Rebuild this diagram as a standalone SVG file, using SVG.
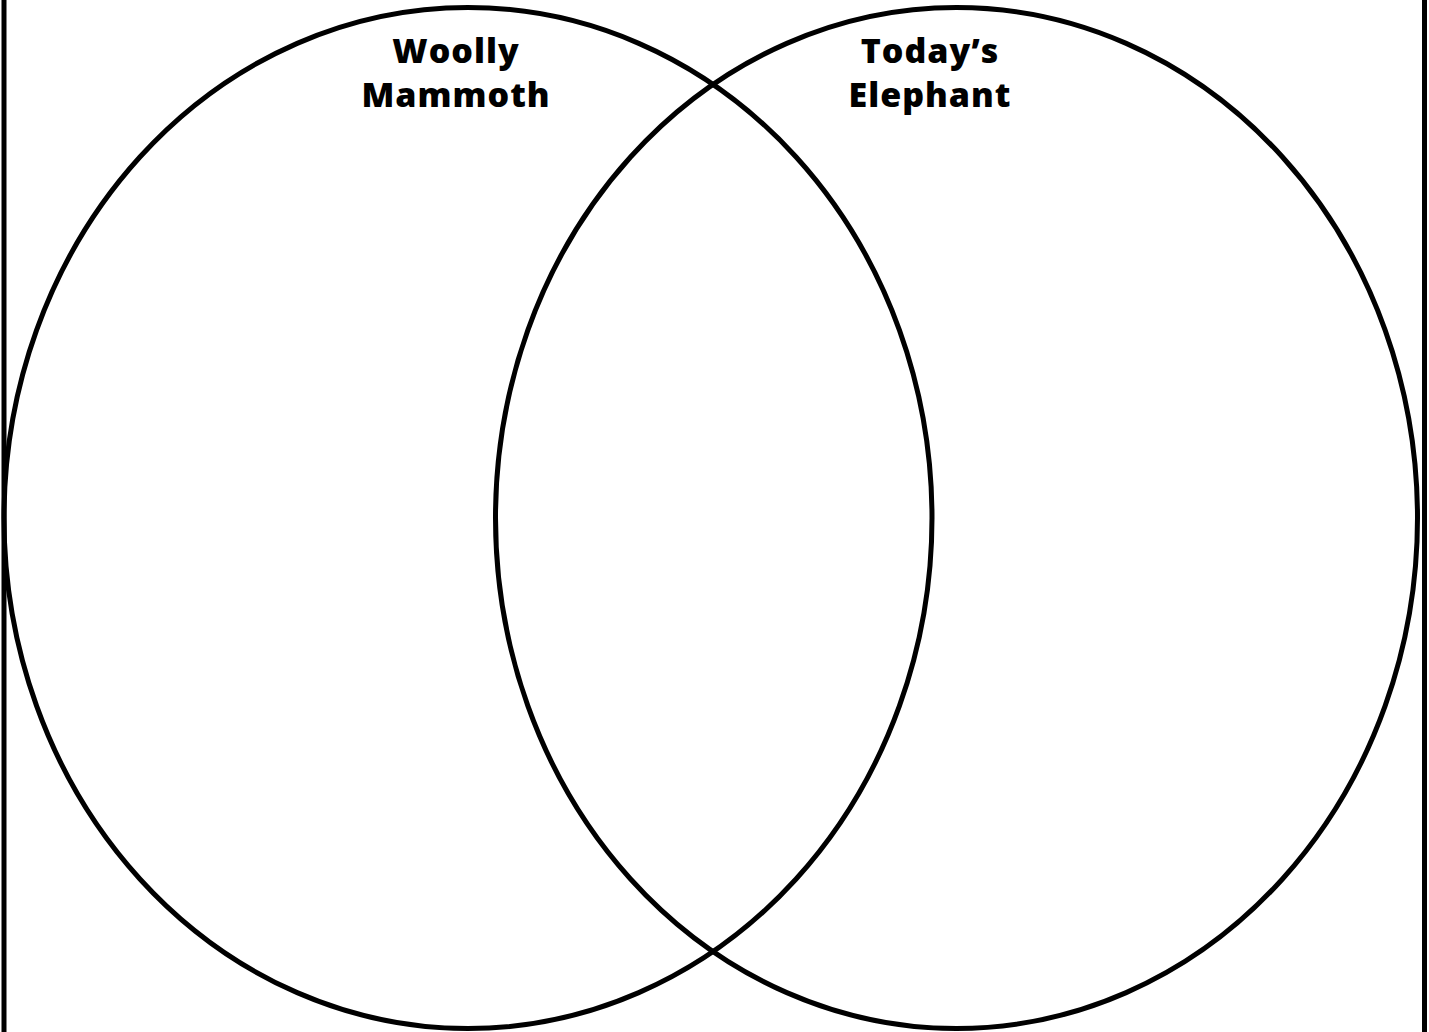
<svg xmlns="http://www.w3.org/2000/svg" width="1429" height="1032" viewBox="0 0 1429 1032">
<style>
.b{stroke:#000;stroke-width:5;fill:none}
.lbl{font-family:"Open Sans","Liberation Sans",sans-serif;font-weight:800;font-size:34px;fill:#000;text-anchor:middle;letter-spacing:1px}
</style>
<rect x="0" y="0" width="1429" height="1032" fill="#fff"/>
<g id="frame">
<line class="b" x1="4" y1="0" x2="4" y2="1032" stroke-width="6"/>
<line class="b" x1="1424.5" y1="0" x2="1424.5" y2="1032" stroke-width="5.5"/>
</g>
<g id="woolly-mammoth">
<ellipse class="b" cx="468" cy="518" rx="464" ry="510.5"/>
<text class="lbl" x="456" y="63">Woolly</text>
<text class="lbl" x="456" y="107">Mammoth</text>
</g>
<g id="todays-elephant">
<ellipse class="b" cx="956.5" cy="518" rx="461" ry="510.5"/>
<text class="lbl" x="930" y="63">Today’s</text>
<text class="lbl" x="930" y="107">Elephant</text>
</g>
<g id="connectors"></g>
</svg>
